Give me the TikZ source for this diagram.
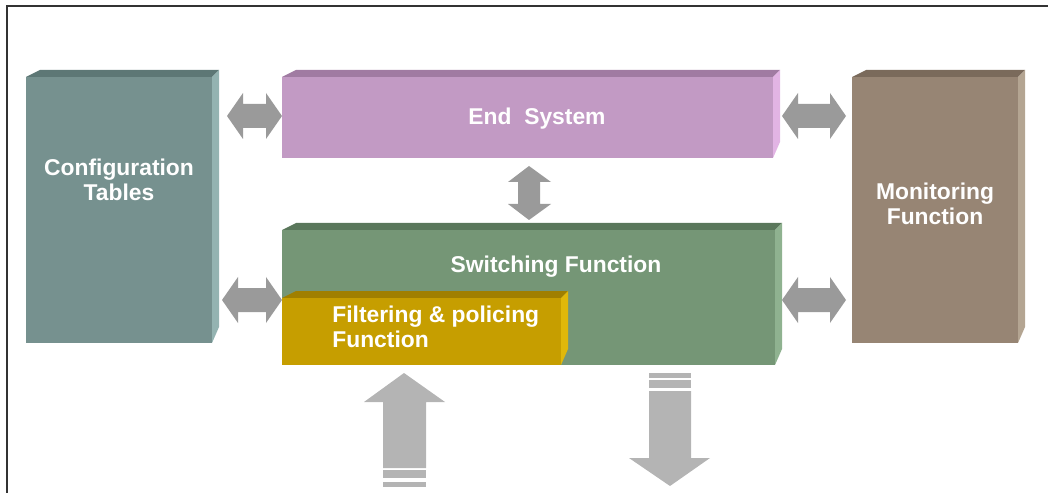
\documentclass[tikz,border=0pt]{standalone}
\usepackage{fontspec}
\setmainfont{Liberation Sans}
\begin{document}
\begin{tikzpicture}[x=0.02cm,y=-0.02cm,
  lbl/.style={text=white,font=\bfseries\fontsize{13}{14.2}\selectfont,align=center,inner sep=0pt},
  dbl/.style={fill=arrowgray},
  blk/.style={fill=blockgray}]
\definecolor{arrowgray}{HTML}{9A9A9A}
\definecolor{blockgray}{HTML}{B4B4B4}
\definecolor{cfgF}{HTML}{76918F}\definecolor{cfgT}{HTML}{5D7775}\definecolor{cfgS}{HTML}{94B3B1}
\definecolor{endF}{HTML}{C29AC4}\definecolor{endT}{HTML}{A07BA2}\definecolor{endS}{HTML}{E2B4E4}
\definecolor{swF}{HTML}{759676}\definecolor{swT}{HTML}{5A775B}\definecolor{swS}{HTML}{8FB290}
\definecolor{flF}{HTML}{C69E00}\definecolor{flT}{HTML}{A07F00}\definecolor{flS}{HTML}{E0B80A}
\definecolor{monF}{HTML}{978574}\definecolor{monT}{HTML}{7A6A5B}\definecolor{monS}{HTML}{B4A592}
\useasboundingbox (0,0) rectangle (1048,493);
% frame
\draw[line width=1.2pt,black!80] (7,493) -- (7,6) -- (1048,6);
% 3D box macro: #1 x1, #2 y1, #3 x2, #4 y2, #5 front, #6 top, #7 side
\newcommand{\boxthreed}[7]{%
  \fill[#6] (#1,#2) -- ({#1+14},{#2-7}) -- ({#3+7},{#2-7}) -- (#3,#2) -- cycle;
  \fill[#7] (#3,#2) -- ({#3+7},{#2-7}) -- ({#3+7},{#4-16}) -- (#3,#4) -- cycle;
  \fill[#5] (#1,#2) rectangle (#3,#4);}
\boxthreed{26}{77}{212}{343}{cfgF}{cfgT}{cfgS}
\boxthreed{282}{77}{773}{158}{endF}{endT}{endS}
\boxthreed{282}{230}{775}{365}{swF}{swT}{swS}
\boxthreed{282}{298}{561}{365}{flF}{flT}{flS}
\boxthreed{852}{77}{1018}{343}{monF}{monT}{monS}
% labels
\node[lbl] (cfgtxt) at (119,180) {Configuration\\Tables};
\node[lbl] (endtxt) at (537,119) {End\ \ System};
\node[lbl] (swtxt) at (556,267) {Switching Function};
\node[lbl,align=left,anchor=west] (fltxt) at (332,327) {Filtering \& policing\\Function};
\node[lbl] (montxt) at (935,204) {Monitoring\\Function};
% horizontal double arrows: #1 left tip x, #2 right tip x, #3 centre y
\newcommand{\harrow}[3]{%
  \fill[arrowgray] (#1,#3) -- ({#1+16},{#3-23}) -- ({#1+16},{#3-12}) -- ({#2-16},{#3-12})
   -- ({#2-16},{#3-23}) -- (#2,#3) -- ({#2-16},{#3+23}) -- ({#2-16},{#3+12})
   -- ({#1+16},{#3+12}) -- ({#1+16},{#3+23}) -- cycle;}
\harrow{227}{282}{116}
\harrow{222}{282}{300}
\harrow{782}{846}{116}
\harrow{782}{846}{300}
% vertical double arrow
\fill[arrowgray] (529,166) -- (551,182) -- (540,182) -- (540,204) -- (551,204) -- (529,220)
  -- (508,204) -- (518,204) -- (518,182) -- (508,182) -- cycle;
% up arrow (input)
\fill[blockgray] (404,373) -- (445,402) -- (426,402) -- (426,468) -- (383,468) -- (383,402) -- (364,402) -- cycle;
\fill[blockgray] (383,470) rectangle (426,478);
\fill[blockgray] (383,482) rectangle (426,487);
% down arrow (output)
\fill[blockgray] (649,373) rectangle (691,378);
\fill[blockgray] (649,380) rectangle (691,388);
\fill[blockgray] (649,391) -- (691,391) -- (691,458) -- (710,458) -- (670,486) -- (629,458) -- (649,458) -- cycle;
\end{tikzpicture}
\end{document}
